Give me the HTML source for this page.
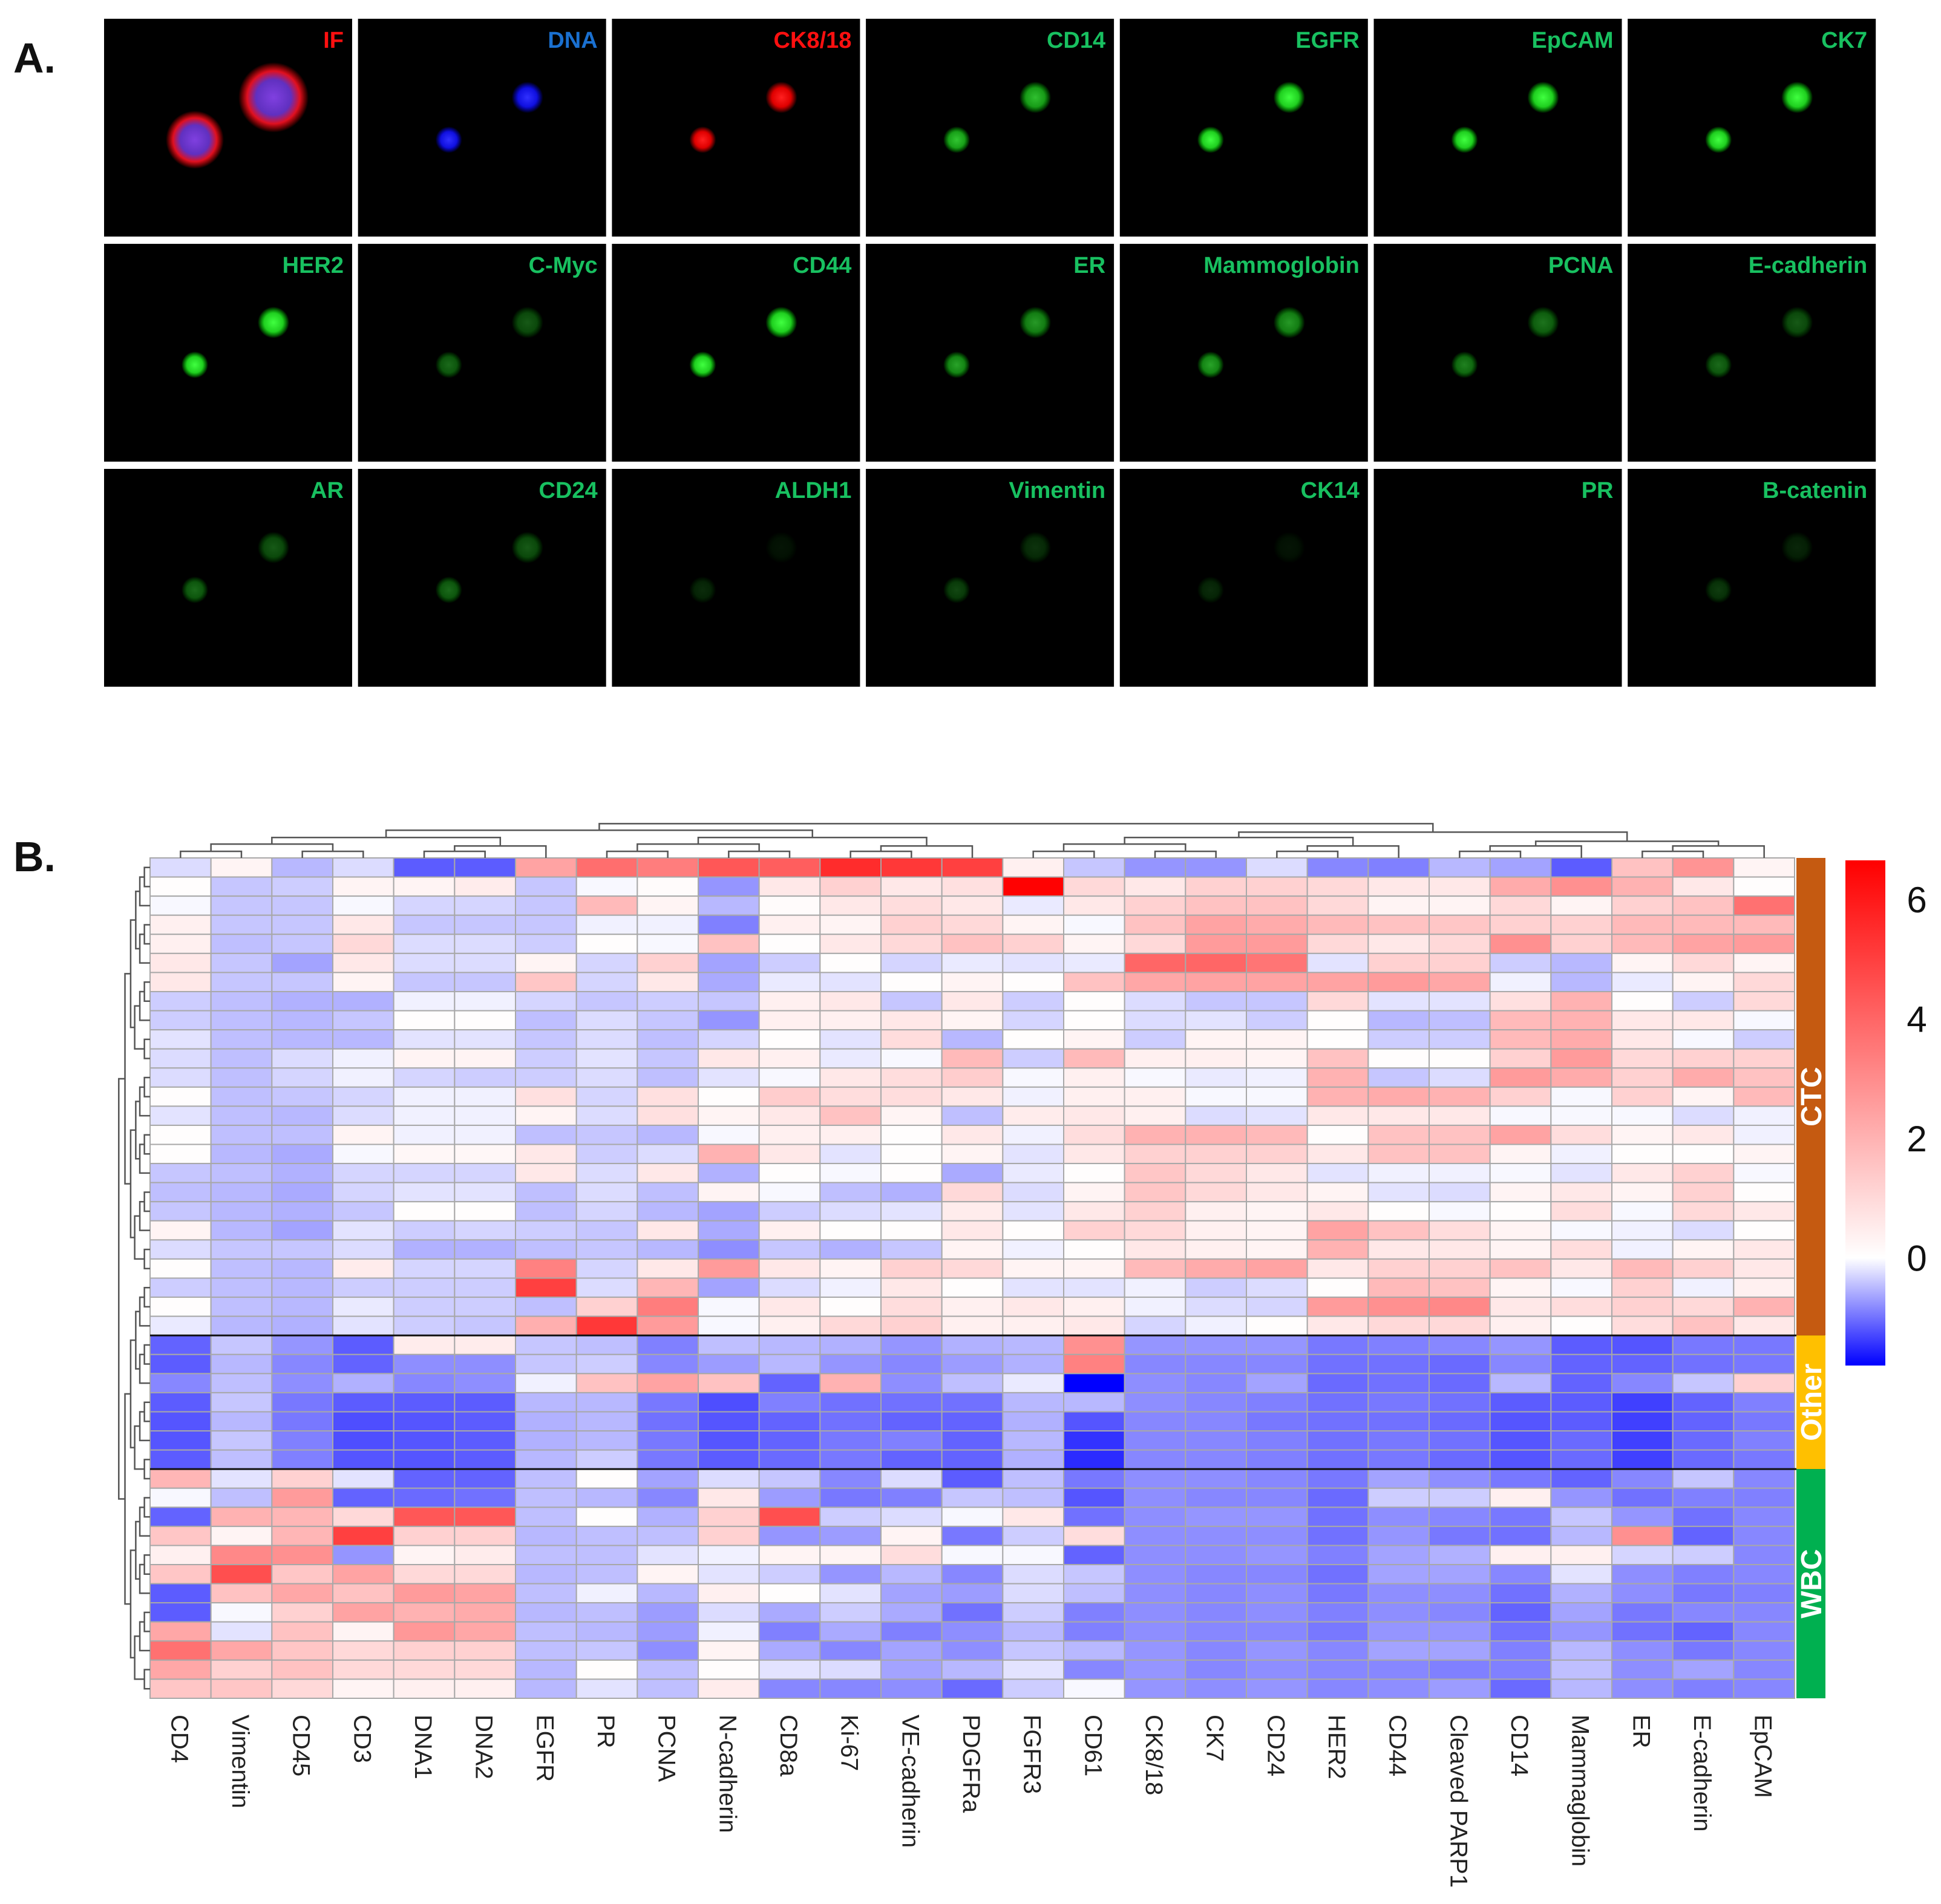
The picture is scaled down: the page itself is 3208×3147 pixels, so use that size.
<!DOCTYPE html>
<html><head><meta charset="utf-8"><title>CTC marker panel and heatmap</title>
<style>
html,body{margin:0;padding:0;background:#fff;}
svg{display:block;font-family:"Liberation Sans",Arial,sans-serif;}
</style></head>
<body>
<svg id="fig" width="3208" height="3147" viewBox="0 0 3208 3147" xmlns="http://www.w3.org/2000/svg">
<defs>
<radialGradient id="gG"><stop offset="0" stop-color="#40ff40"/><stop offset="0.6" stop-color="#20d020"/><stop offset="1" stop-color="#00ff00" stop-opacity="0"/></radialGradient>
<radialGradient id="gR"><stop offset="0" stop-color="#ff2020"/><stop offset="0.6" stop-color="#e00000"/><stop offset="1" stop-color="#ff0000" stop-opacity="0"/></radialGradient>
<radialGradient id="gB"><stop offset="0" stop-color="#3030ff"/><stop offset="0.6" stop-color="#1010e0"/><stop offset="1" stop-color="#0000ff" stop-opacity="0"/></radialGradient>
<radialGradient id="gIF"><stop offset="0" stop-color="#8040e0"/><stop offset="0.5" stop-color="#6030c0"/><stop offset="0.75" stop-color="#e01020"/><stop offset="1" stop-color="#ff0000" stop-opacity="0"/></radialGradient>
<linearGradient id="cbar" x1="0" y1="1" x2="0" y2="0">
<stop offset="0" stop-color="#0000ff"/><stop offset="0.2128" stop-color="#ffffff"/><stop offset="1" stop-color="#ff0000"/>
</linearGradient>
</defs>
<text x="22" y="120" font-size="70" font-weight="bold" fill="#111">A.</text>
<text x="22" y="1440" font-size="70" font-weight="bold" fill="#111">B.</text>
<g id="tiles"></g>
<g id="heat"></g>
</svg>
<script>
// ---------- Panel A data ----------
const tileLabels = [["IF","DNA","CK8/18","CD14","EGFR","EpCAM","CK7"],
 ["HER2","C-Myc","CD44","ER","Mammoglobin","PCNA","E-cadherin"],
 ["AR","CD24","ALDH1","Vimentin","CK14","PR","B-catenin"]];
const tileIntensity = [[1,1,1,0.75,1,1,1],[1,0.35,1,0.6,0.6,0.45,0.35],[0.35,0.35,0.08,0.2,0.08,0,0.15]];

// ---------- Panel B data ----------
const markers = ["CD4","Vimentin","CD45","CD3","DNA1","DNA2","EGFR","PR","PCNA","N-cadherin","CD8a","Ki-67","VE-cadherin","PDGFRa","FGFR3","CD61","CK8/18","CK7","CD24","HER2","CD44","Cleaved PARP1","CD14","Mammaglobin","ER","E-cadherin","EpCAM"];
const groupNames = ["CTC","Other","WBC"];
const colorTicks = [0,2,4,6];
const ctcRows = [
[-0.25,0.3,-0.5,-0.25,-1.15,-1.15,2.4,3.8,3.4,4.4,4.2,5.5,5.2,5.0,0.4,-0.4,-0.75,-0.75,-0.25,-0.85,-0.9,-0.5,-0.65,-1.15,1.6,2.8,0.3],
[0.05,-0.4,-0.35,0.3,0.3,0.5,-0.4,-0.05,0.1,-0.75,0.6,1.2,0.6,0.8,6.6,1.0,0.6,1.2,1.2,1.0,0.6,0.6,2.2,2.9,2.0,0.6,0.05],
[-0.05,-0.4,-0.4,-0.05,-0.3,-0.3,-0.4,1.8,0.3,-0.5,0.1,0.6,0.9,0.6,-0.15,0.6,1.2,1.6,1.6,1.0,0.3,0.3,1.0,0.3,1.2,1.6,3.7],
[0.4,-0.4,-0.4,0.6,-0.4,-0.4,-0.4,-0.1,-0.1,-0.9,0.4,0.3,1.2,1.0,0.3,-0.05,1.6,2.4,2.2,1.8,1.6,1.5,1.2,1.2,1.8,1.8,1.8],
[0.4,-0.45,-0.4,1.0,-0.25,-0.25,-0.35,0.05,-0.05,1.6,0.05,0.6,1.0,1.6,1.2,0.3,1.0,2.6,2.6,1.0,0.6,1.0,2.9,1.2,1.8,2.4,2.6],
[0.6,-0.4,-0.65,0.6,-0.25,-0.25,0.3,-0.3,1.2,-0.65,-0.35,0.05,-0.3,-0.15,-0.2,-0.15,4.0,4.0,3.6,-0.2,1.2,1.2,-0.35,-0.5,0.3,1.0,0.3],
[0.6,-0.4,-0.4,0.3,-0.4,-0.4,1.5,-0.3,0.6,-0.6,-0.15,-0.2,0.05,0.3,0.05,1.6,2.3,2.4,2.4,2.4,2.6,2.3,-0.1,-0.5,-0.15,0.3,1.0],
[-0.35,-0.45,-0.55,-0.55,-0.1,-0.1,-0.3,-0.4,-0.35,-0.4,0.4,0.6,-0.4,0.6,-0.35,0.05,-0.25,-0.4,-0.4,1.0,-0.2,-0.2,0.8,2.0,0.05,-0.35,1.0],
[-0.35,-0.45,-0.5,-0.4,0.05,0.05,-0.45,-0.25,-0.4,-0.75,0.4,0.4,0.6,0.3,-0.3,0.05,-0.25,-0.2,-0.35,0.05,-0.5,-0.45,1.8,2.0,0.6,0.6,-0.05],
[-0.2,-0.45,-0.5,-0.5,-0.2,-0.2,-0.4,-0.25,-0.45,-0.3,0.05,-0.2,0.9,-0.5,0.05,0.3,-0.35,0.3,0.3,0.05,-0.35,-0.35,1.8,2.2,0.6,-0.05,-0.35],
[-0.25,-0.45,-0.25,-0.1,0.3,0.3,-0.35,-0.2,-0.4,0.6,0.4,-0.15,-0.05,1.8,-0.35,1.8,0.4,0.4,0.3,1.6,0.05,0.05,1.2,2.6,1.0,1.2,1.2],
[-0.25,-0.45,-0.3,-0.1,-0.3,-0.35,-0.35,-0.25,-0.45,-0.2,-0.05,0.6,0.9,1.3,-0.05,0.4,-0.05,-0.15,-0.1,2.0,-0.4,-0.25,2.6,2.2,1.2,2.2,1.6],
[0.05,-0.45,-0.4,-0.3,-0.1,-0.1,0.8,-0.3,0.8,0.05,1.3,0.9,0.9,0.6,-0.1,0.4,0.4,-0.05,-0.05,2.0,2.2,2.0,1.2,-0.05,1.2,0.3,1.8],
[-0.2,-0.45,-0.5,-0.25,-0.1,-0.1,0.3,-0.25,0.8,0.3,0.6,1.6,0.3,-0.45,0.5,0.6,0.4,-0.25,-0.2,0.6,0.6,0.6,-0.05,-0.05,-0.05,-0.25,-0.1],
[0.05,-0.45,-0.45,0.3,-0.1,-0.1,-0.45,-0.4,-0.5,-0.05,0.4,0.4,0.05,0.6,-0.1,0.9,2.0,2.0,1.8,0.05,1.6,1.6,2.4,0.9,0.3,0.6,-0.1],
[0.05,-0.5,-0.6,-0.05,0.2,0.2,0.6,-0.35,-0.25,2.0,0.6,-0.2,0.05,0.3,-0.2,0.6,1.2,1.2,1.2,0.6,1.6,1.6,0.3,-0.1,0.05,0.05,0.3],
[-0.4,-0.45,-0.55,-0.3,-0.3,-0.3,0.6,-0.25,0.6,-0.55,0.05,-0.05,0.05,-0.6,-0.15,0.05,1.5,1.0,0.6,-0.2,-0.1,-0.1,-0.05,-0.2,0.6,1.2,-0.05],
[-0.45,-0.5,-0.6,-0.3,-0.2,-0.2,-0.45,-0.25,-0.45,0.3,-0.05,-0.45,-0.55,1.0,-0.25,0.3,1.5,1.0,0.6,0.3,-0.2,-0.25,0.3,0.6,0.3,1.2,0.05],
[-0.4,-0.5,-0.55,-0.4,0.05,0.05,-0.45,-0.3,-0.5,-0.65,-0.35,-0.25,-0.2,0.5,-0.2,0.6,1.2,0.4,0.3,0.6,0.05,-0.05,0.05,0.9,-0.05,1.0,0.6],
[0.3,-0.5,-0.65,-0.2,-0.35,-0.3,-0.35,-0.4,0.6,-0.6,0.4,0.05,0.05,0.6,0.05,1.2,1.0,0.4,0.3,2.4,1.6,0.9,0.3,-0.05,-0.1,-0.25,0.05],
[-0.25,-0.4,-0.4,-0.25,-0.55,-0.55,-0.45,-0.4,-0.5,-0.8,-0.4,-0.55,-0.4,0.3,-0.1,0.05,0.6,0.4,0.3,2.0,0.6,0.6,0.3,0.9,-0.1,0.3,0.6],
[0.05,-0.45,-0.5,0.5,-0.3,-0.3,3.3,-0.3,0.6,2.6,0.6,0.3,1.2,1.0,0.3,0.3,1.8,2.2,2.4,0.6,1.2,1.2,1.6,0.6,1.8,1.2,0.6],
[-0.35,-0.45,-0.5,-0.35,-0.35,-0.35,5.0,-0.25,1.9,-0.65,-0.25,-0.1,0.6,0.05,-0.2,-0.2,-0.1,-0.35,-0.25,0.05,1.8,1.6,0.3,-0.05,1.2,-0.1,0.4],
[0.05,-0.45,-0.5,-0.15,-0.35,-0.35,-0.45,1.2,3.4,-0.05,0.6,0.05,0.9,0.4,0.6,0.4,-0.1,-0.25,-0.3,2.6,2.9,3.1,0.6,0.9,1.2,1.0,2.0],
[-0.15,-0.5,-0.55,-0.2,-0.35,-0.4,2.1,5.2,2.6,-0.05,0.4,1.0,1.2,0.4,0.4,0.6,-0.3,-0.1,0.05,0.6,1.0,1.0,0.4,0.05,0.9,1.6,0.6]];
const otherRows = [
[-1.1,-0.4,-0.75,-1.15,0.5,0.5,-0.4,-0.45,-0.9,-0.45,-0.5,-0.55,-0.75,-0.55,-0.5,2.9,-0.75,-0.75,-0.75,-0.95,-0.9,-0.85,-0.75,-1.15,-1.2,-0.95,-0.95],
[-1.15,-0.5,-0.85,-1.1,-0.8,-0.8,-0.4,-0.35,-0.85,-0.7,-0.5,-0.75,-0.85,-0.7,-0.55,3.3,-0.85,-0.85,-0.85,-1.0,-1.0,-1.05,-0.85,-1.1,-1.1,-1.0,-0.95],
[-0.85,-0.45,-0.8,-0.55,-0.85,-0.8,-0.1,1.6,2.4,1.6,-1.1,2.0,-0.8,-0.45,-0.15,-1.8,-0.8,-0.85,-0.65,-1.05,-1.0,-1.05,-0.5,-1.1,-0.85,-0.4,1.2],
[-1.15,-0.4,-0.95,-1.15,-1.15,-1.15,-0.5,-0.5,-0.95,-1.25,-0.9,-1.0,-1.0,-1.0,-0.5,-0.5,-0.8,-0.85,-0.9,-1.0,-0.95,-1.0,-1.15,-1.15,-1.35,-1.1,-0.9],
[-1.2,-0.5,-0.95,-1.25,-1.2,-1.15,-0.55,-0.5,-1.0,-1.2,-1.1,-1.0,-1.1,-1.1,-0.55,-1.2,-0.85,-0.85,-0.95,-1.0,-1.0,-1.05,-1.2,-1.15,-1.35,-1.1,-0.95],
[-1.2,-0.4,-0.9,-1.25,-1.2,-1.15,-0.55,-0.5,-0.95,-1.2,-1.1,-0.95,-0.9,-1.1,-0.5,-1.45,-0.85,-0.85,-0.9,-1.0,-0.95,-1.0,-1.2,-1.05,-1.35,-1.05,-0.9],
[-1.15,-0.45,-0.9,-1.2,-1.2,-1.15,-0.5,-0.35,-0.95,-1.15,-1.05,-0.95,-1.1,-1.1,-0.55,-1.5,-0.85,-0.85,-0.9,-1.0,-0.95,-1.05,-1.2,-1.05,-1.35,-1.05,-0.95]];
const wbcRows = [
[1.9,-0.2,1.2,-0.2,-1.1,-1.1,-0.45,0.05,-0.65,-0.25,-0.4,-0.85,-0.25,-1.15,-0.45,-0.95,-0.8,-0.8,-0.85,-0.95,-0.65,-0.8,-0.95,-1.1,-0.85,-0.4,-0.85],
[-0.05,-0.45,2.6,-1.1,-1.05,-1.0,-0.45,-0.5,-0.85,0.6,-0.7,-0.95,-0.9,-0.4,-0.45,-1.2,-0.8,-0.85,-0.85,-1.05,-0.35,-0.35,0.4,-0.75,-1.0,-0.9,-0.9],
[-1.1,2.0,1.9,1.0,4.4,4.4,-0.45,0.05,-0.55,1.2,4.6,-0.35,-0.25,-0.05,0.6,-1.0,-0.8,-0.75,-0.75,-1.0,-0.8,-0.85,-0.95,-0.4,-0.75,-1.0,-0.85],
[1.5,0.3,1.9,5.0,1.2,1.2,-0.5,-0.45,-0.45,1.2,-0.75,-0.7,0.3,-0.95,-0.35,0.9,-0.8,-0.8,-0.8,-1.0,-0.75,-0.95,-1.0,-0.5,2.9,-1.1,-0.85],
[0.4,3.1,2.9,-0.75,0.3,0.5,-0.45,-0.45,-0.2,-0.1,0.3,0.3,0.9,-0.05,-0.05,-1.1,-0.8,-0.8,-0.75,-0.9,-0.65,-0.55,0.4,0.4,-0.3,-0.35,-0.85],
[1.5,4.6,1.5,2.4,1.0,1.0,-0.5,-0.45,0.3,-0.2,-0.35,-0.75,-0.5,-0.85,-0.25,-0.4,-0.8,-0.85,-0.85,-1.0,-0.65,-0.65,-0.85,-0.2,-0.8,-0.9,-0.85],
[-1.15,1.6,2.3,1.6,2.6,2.4,-0.45,-0.1,-0.5,0.4,0.05,-0.2,-0.65,-0.7,-0.25,-0.45,-0.8,-0.85,-0.8,-0.95,-0.8,-0.8,-1.0,-0.55,-0.8,-0.95,-0.9],
[-1.15,-0.05,1.2,2.4,2.0,2.2,-0.5,-0.45,-0.7,-0.25,-0.6,-0.35,-0.6,-1.0,-0.35,-0.9,-0.8,-0.85,-0.8,-0.9,-0.8,-0.85,-1.1,-0.65,-0.95,-0.85,-0.85],
[2.3,-0.2,1.6,0.3,2.7,2.3,-0.45,-0.5,-0.7,-0.1,-0.9,-0.6,-0.9,-0.8,-0.5,-0.9,-0.8,-0.85,-0.85,-0.95,-0.75,-0.75,-1.0,-0.75,-1.0,-1.1,-0.85],
[3.7,2.3,1.5,1.0,1.2,1.2,-0.45,-0.4,-0.8,0.3,-0.6,-0.85,-0.65,-0.8,-0.4,-0.5,-0.75,-0.85,-0.75,-0.85,-0.65,-0.65,-0.9,-0.5,-0.8,-0.95,-0.85],
[2.3,1.2,1.6,1.0,1.0,1.0,-0.5,0.05,-0.45,0.05,-0.2,-0.25,-0.65,-0.5,-0.2,-0.85,-0.75,-0.85,-0.8,-0.85,-0.85,-0.9,-0.9,-0.45,-0.8,-0.65,-0.85],
[1.5,1.5,1.0,0.3,0.4,0.4,-0.5,-0.2,-0.45,0.5,-0.85,-0.85,-0.8,-1.05,-0.35,-0.05,-0.75,-0.8,-0.75,-0.85,-0.8,-0.7,-1.05,-0.5,-0.8,-0.9,-0.85]];

const NS = "http://www.w3.org/2000/svg";
function mk(tag, attrs, parent){ const e=document.createElementNS(NS,tag); for(const k in attrs) e.setAttribute(k,attrs[k]); parent.appendChild(e); return e; }

// ---------- Panel A ----------
const tilesG = document.getElementById('tiles');
const tileX = c => 172 + c*419.7;
const tileY = r => 31 + r*372;
tileLabels.forEach((row,r)=>row.forEach((lab,c)=>{
  const g = mk('g',{},tilesG);
  
  
  const x=tileX(c), y=tileY(r), w=410, h=360;
  mk('rect',{x:x,y:y,width:w,height:h,fill:'#000'},g);
  const I = tileIntensity[r][c];
  let fillId='gG', labCol='#18c060';
  if(lab==='IF'){fillId='gIF'; labCol='#ff1010';}
  else if(lab==='DNA'){fillId='gB'; labCol='#1a70d0';}
  else if(lab==='CK8/18'){fillId='gR'; labCol='#ff1010';}
  const big = lab==='IF';
  if(I>0){
    mk('circle',{cx:x+150,cy:y+200,r:big?48:22,fill:'url(#'+fillId+')',opacity:Math.min(1,I*0.9+0.1)},g);
    mk('circle',{cx:x+280,cy:y+130,r:big?58:26,fill:'url(#'+fillId+')',opacity:Math.min(1,I)},g);
  }
  const t = mk('text',{x:x+w-14,y:y+48,'text-anchor':'end','font-size':38,'font-weight':'bold',fill:labCol,'font-family':'"Liberation Sans Narrow","Liberation Sans",sans-serif'},g);
  t.textContent = lab;
  
  
}));

// ---------- Panel B heatmap ----------
const heat = document.getElementById('heat');
const allRows = ctcRows.concat(otherRows, wbcRows);
const groupSizes = [ctcRows.length, otherRows.length, wbcRows.length];
const X0=248, X1=2966, Y0=1418, Y1=2807;
const nC = markers.length, nR = allRows.length;
const cw = (X1-X0)/nC, rh = (Y1-Y0)/nR;
const xPos = c => X0 + c*cw;
const yPos = r => Y0 + r*rh;
const VMIN=-1.8, VMAX=6.66;
function color(v){
  if(v<0){ const t=Math.min(1,v/VMIN); const a=Math.round(255*(1-t)); return `rgb(${a},${a},255)`; }
  const t=Math.min(1,v/VMAX); const a=Math.round(255*(1-t)); return `rgb(255,${a},${a})`;
}
const cellsG = mk('g',{},heat);


allRows.forEach((row,r)=>row.forEach((v,c)=>{
  const rc = mk('rect',{x:xPos(c),y:yPos(r),width:cw,height:rh,fill:color(v),stroke:'#a8a8a8','stroke-width':2},cellsG);
  
  
}));
// group separators
let acc=0;
for(let i=0;i<groupSizes.length-1;i++){ acc+=groupSizes[i];
  const ln = mk('line',{x1:X0,x2:X1+50,y1:yPos(acc),y2:yPos(acc),stroke:'#111','stroke-width':3},heat);
  
  
}
// annotation bar
const annCols=['#c55a11','#ffc000','#00b050'];
acc=0;
groupSizes.forEach((n,i)=>{
  const y=yPos(acc), h=n*rh;
  const rc = mk('rect',{x:2969,y:y,width:48,height:h,fill:annCols[i]},heat);
  
  
  const cy=y+h/2;
  const t = mk('text',{x:0,y:0,transform:`translate(3010,${cy}) rotate(-90)`,'text-anchor':'middle','font-size':48,'font-weight':'bold',fill:'#fff'},heat);
  t.textContent=groupNames[i];
  
  
  acc+=n;
});
// column labels
markers.forEach((m,c)=>{
  const cx = xPos(c)+cw/2;
  const t = mk('text',{x:0,y:0,transform:`translate(${cx-15},2834) rotate(90)`,'font-size':40,fill:'#222'},heat);
  t.textContent=m;
  
  
});
// colorbar
const CB0=1422, CB1=2257;
const cbY = v => CB1 - (v-VMIN)/(VMAX-VMIN)*(CB1-CB0);
const cb = mk('rect',{x:3050,y:CB0,width:66,height:CB1-CB0,fill:'url(#cbar)'},heat);


colorTicks.forEach(v=>{
  const t = mk('text',{x:3168,y:cbY(v)+21,'text-anchor':'middle','font-size':60,fill:'#111'},heat);
  t.textContent=String(v);
  
  
});
// dendrograms (structure only, drawn as balanced trees)
const dg = mk('g',{stroke:'#555','stroke-width':2.5,fill:'none'},heat);


function tree(lo,hi,depth,maxD,pos,horizontal,base,span){
  if(lo===hi) return {p:pos(lo),h:0};
  const mid=Math.floor((lo+hi)/2);
  const a=tree(lo,mid,depth+1,maxD,pos,horizontal,base,span), b=tree(mid+1,hi,depth+1,maxD,pos,horizontal,base,span);
  const hgt = Math.max(a.h,b.h) + span/(maxD+1)*(0.6+0.4*((lo*7+hi*3)%5)/5);
  const cap = Math.min(hgt, span);
  const P = (p,h)=> horizontal? `${p},${base-h}` : `${base-h},${p}`;
  mk('polyline',{points:[P(a.p,a.h),P(a.p,cap),P(b.p,cap),P(b.p,b.h)].join(' ')},dg);
  return {p:(a.p+b.p)/2,h:cap};
}
tree(0,nC-1,0,5,c=>xPos(c)+cw/2,true,Y0,78);
tree(0,nR-1,0,6,r=>yPos(r)+rh/2,false,X0,78);
</script>
</body></html>
